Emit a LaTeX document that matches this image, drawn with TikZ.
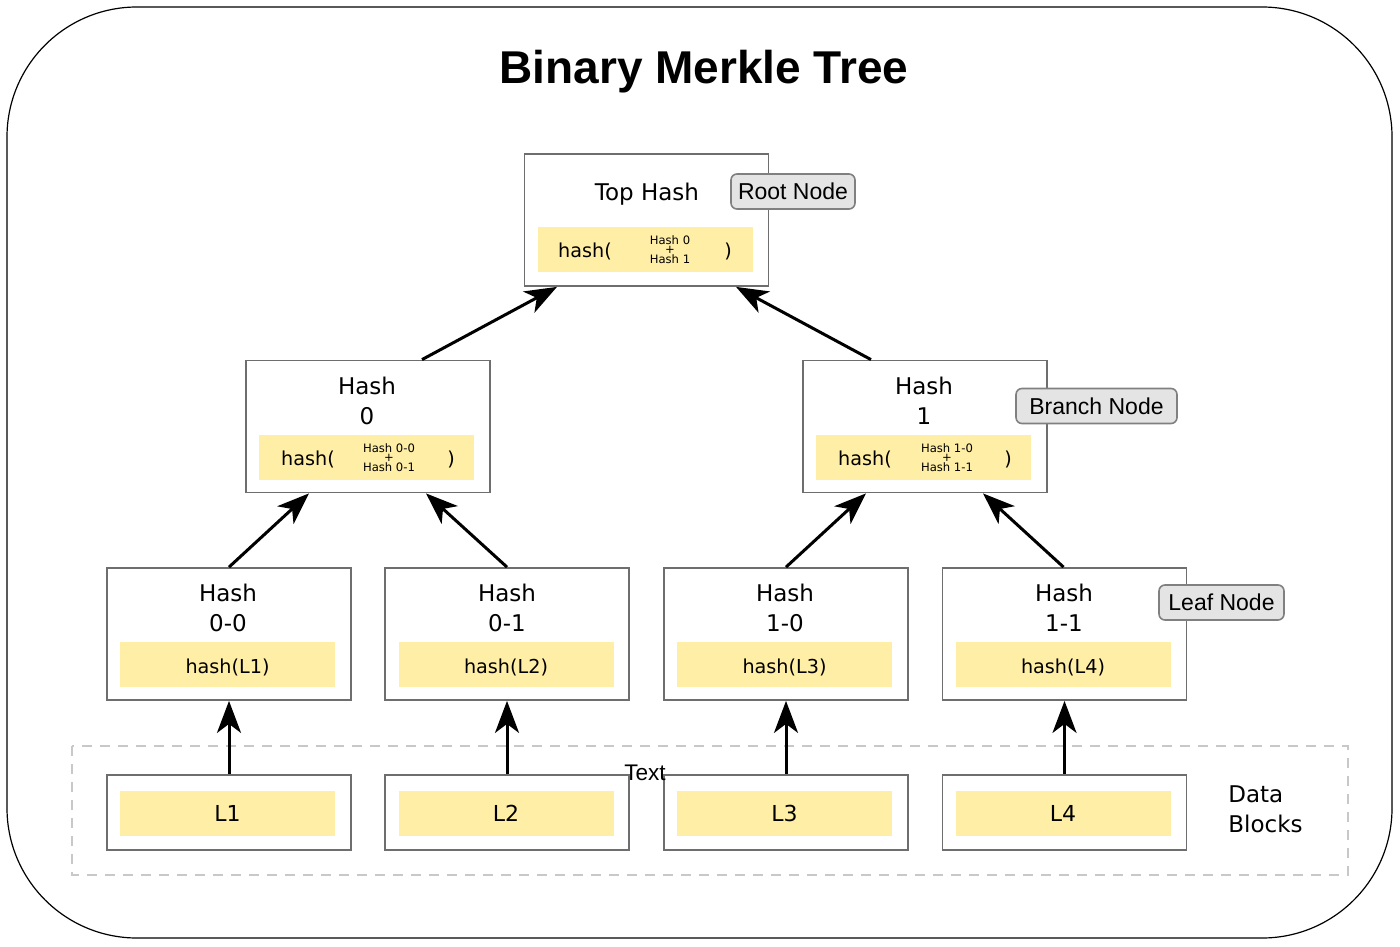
\documentclass[tikz,border=0pt]{standalone}
\usepackage{fontspec}
\setmainfont{DejaVu Sans}
\newfontfamily\tagfont{Liberation Sans}
\usetikzlibrary{arrows.meta}
\definecolor{hashyellow}{RGB}{255,239,166}
\definecolor{boxgray}{RGB}{110,110,110}
\definecolor{tagfill}{RGB}{228,228,228}
\definecolor{dashgray}{RGB}{200,200,200}
\tikzstyle{hbox}=[draw=boxgray, line width=.9pt, fill=white, minimum width=122pt, minimum height=66pt, inner sep=0pt]
\tikzstyle{dbox}=[draw=boxgray, line width=.9pt, fill=white, minimum width=122pt, minimum height=37.5pt, inner sep=0pt]
\tikzstyle{band}=[fill=hashyellow, minimum width=107.5pt, minimum height=22.5pt, inner sep=0pt]
\tikzstyle{htext}=[align=center, inner sep=0pt, font=\fontsize{11.5}{15}\selectfont]
\tikzstyle{btext}=[inner sep=0pt, font=\fontsize{9.6}{11}\selectfont]
\tikzstyle{stack}=[align=center, inner sep=0pt, font=\fontsize{5.8}{4.2}\selectfont]
\tikzstyle{tag}=[draw=gray, fill=tagfill, rounded corners=3pt, line width=.8pt, inner sep=0pt, minimum height=17.5pt, font=\tagfont\fontsize{11.5}{13}\selectfont]
\tikzstyle{link}=[line width=1.5pt, -{Stealth[length=16pt, width=12pt, inset=4.5pt]}]

\begin{document}
\begin{tikzpicture}[x=0.5pt, y=-0.5pt]
  \useasboundingbox (0,0) rectangle (1400,946);
  \draw[line width=.6pt, rounded corners=65pt, fill=white] (7,7) rectangle (1392,938);
  \node[font=\tagfont\bfseries\fontsize{23}{27}\selectfont] (title) at (704,72) {Binary Merkle Tree};

  % data block area
  \draw[dashgray, line width=1pt, dash pattern=on 5pt off 4pt] (72,746) rectangle (1348,875);

  % root
  \node[hbox] (top) at (646.5,220) {};
  \node[htext] (toplbl) at (647,194) {Top Hash};
  \node[band] (topband) at (645.5,250) {};
  \node[btext] (topfn) at (585,251) {hash(};
  \node[stack] (topin) at (670,250) {Hash 0\\+\\Hash 1};
  \node[btext] (topend) at (728,251) {)};

  % branches
  \node[hbox] (h0) at (368,426.5) {};
  \node[htext] (h0lbl) at (367,401) {Hash\\0};
  \node[band] (h0band) at (366.5,457.5) {};
  \node[btext] (h0fn) at (308,459) {hash(};
  \node[stack] (h0in) at (389,458) {Hash 0-0\\+\\Hash 0-1};
  \node[btext] (h0end) at (451,459) {)};

  \node[hbox] (h1) at (925,426.5) {};
  \node[htext] (h1lbl) at (924,401) {Hash\\1};
  \node[band] (h1band) at (923.5,457.5) {};
  \node[btext] (h1fn) at (865,459) {hash(};
  \node[stack] (h1in) at (947,458) {Hash 1-0\\+\\Hash 1-1};
  \node[btext] (h1end) at (1008,459) {)};

  % leaves
  \node[hbox] (h00) at (229,634) {};
  \node[htext] (h00lbl) at (228,608) {Hash\\0-0};
  \node[band, label={[btext, yshift=-1.5pt]center:hash(L1)}] (h00band) at (227.5,664.5) {};
  \node[hbox] (h01) at (507,634) {};
  \node[htext] (h01lbl) at (507,608) {Hash\\0-1};
  \node[band, label={[btext, yshift=-1.5pt]center:hash(L2)}] (h01band) at (506,664.5) {};
  \node[hbox] (h10) at (786,634) {};
  \node[htext] (h10lbl) at (785,608) {Hash\\1-0};
  \node[band, label={[btext, yshift=-1.5pt]center:hash(L3)}] (h10band) at (784.5,664.5) {};
  \node[hbox] (h11) at (1064.5,634) {};
  \node[htext] (h11lbl) at (1064,608) {Hash\\1-1};
  \node[band, label={[btext, yshift=-1.5pt]center:hash(L4)}] (h11band) at (1063,664.5) {};

  % data blocks
  \node[dbox] (d1) at (229,812.5) {};
  \node[band, font=\fontsize{11}{13}\selectfont] (l1) at (227.5,813.5) {L1};
  \node[dbox] (d2) at (507,812.5) {};
  \node[band, font=\fontsize{11}{13}\selectfont] (l2) at (506,813.5) {L2};
  \node[dbox] (d3) at (786,812.5) {};
  \node[band, font=\fontsize{11}{13}\selectfont] (l3) at (784.5,813.5) {L3};
  \node[dbox] (d4) at (1064.5,812.5) {};
  \node[band, font=\fontsize{11}{13}\selectfont] (l4) at (1063,813.5) {L4};
  \node[inner sep=0pt, font=\tagfont\fontsize{11.3}{13}\selectfont] (txt) at (645,773) {Text};
  \node[htext, align=left, anchor=west] (blocks) at (1228,809) {Data\\Blocks};

  % arrows
  \draw[link] (d1.north) -- (h00.south);
  \draw[link] (d2.north) -- (h01.south);
  \draw[link] (d3.north) -- (h10.south);
  \draw[link] (d4.north) -- (h11.south);
  \draw[link] (h00.north) -- ([xshift=-29.5pt]h0.south);
  \draw[link] (h01.north) -- ([xshift=29pt]h0.south);
  \draw[link] (h10.north) -- ([xshift=-29.5pt]h1.south);
  \draw[link] ([xshift=-0.5pt]h11.north) -- ([xshift=29pt]h1.south);
  \draw[link] ([xshift=27pt]h0.north) -- ([xshift=-44.75pt]top.south);
  \draw[link] ([xshift=-27pt]h1.north) -- ([xshift=44.75pt]top.south);

  % tags
  \node[tag, minimum width=62pt] (roottag) at (793,191.5) {Root Node};
  \node[tag, minimum width=80.5pt] (branchtag) at (1096.5,406) {Branch Node};
  \node[tag, minimum width=62.5pt] (leaftag) at (1221.5,602.5) {Leaf Node};
\end{tikzpicture}
\end{document}
